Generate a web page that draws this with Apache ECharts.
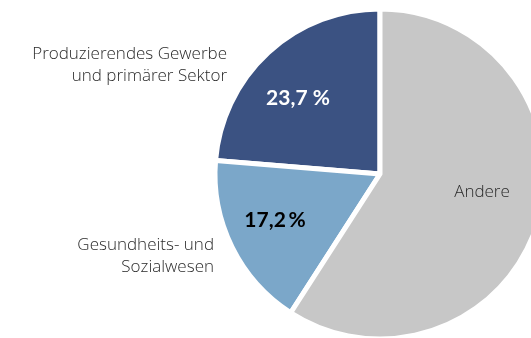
<!DOCTYPE html>
<html>
<head>
<meta charset="utf-8">
<style>html,body{margin:0;padding:0;background:#fff;}#c{width:531px;height:338px;}</style>
<script src="https://cdn.jsdelivr.net/npm/echarts@6/dist/echarts.min.js"></script>
</head>
<body>
<div id="c"></div>
<script>
// Data
const categories = ['Produzierendes Gewerbe\nund primärer Sektor', 'Gesundheits- und\nSozialwesen', 'Andere'];
const values = [23.7, 17.2, 59.1];
const valueLabels = ['23,7 %', '17,2\u2009%', ''];
const colors = ['#3b5282', '#7ba7c9', '#c7c7c7'];

const chart = echarts.init(document.getElementById('c'));
const center = [380, 174];
const radius = 165;

// label positions (layout only)
const innerPos = [[298, 98], [275, 220], [482, 192]];
const outerPos = [[227, 65], [214, 256], null];

const nameFont = { color: '#2a2a2a', fontSize: 17, fontFamily: 'Open Sans', fontWeight: 300 };

const innerData = values.map((v, i) => ({
  value: v,
  name: categories[i],
  itemStyle: { color: colors[i] },
  label: i === 0 ? { color: '#ffffff', fontWeight: 'bold', fontSize: 21, fontFamily: 'Lato' }
       : i === 1 ? { color: '#000000', fontWeight: 'bold', fontSize: 21, fontFamily: 'Lato' }
       : nameFont
}));

const outerData = values.map((v, i) => ({
  value: v,
  name: categories[i],
  label: { show: i < 2 }
}));

chart.setOption({
  animation: false,
  series: [
    {
      type: 'pie',
      center: center,
      radius: radius,
      startAngle: 90,
      clockwise: false,
      silent: true,
      itemStyle: { borderColor: '#ffffff', borderWidth: 5 },
      label: {
        show: true,
        position: 'inside',
        formatter: p => p.dataIndex === 2 ? 'Andere' : valueLabels[p.dataIndex]
      },
      labelLine: { show: false },
      labelLayout: p => ({ x: innerPos[p.dataIndex][0], y: innerPos[p.dataIndex][1], align: 'center', verticalAlign: 'middle' }),
      data: innerData
    },
    {
      type: 'pie',
      center: center,
      radius: radius,
      startAngle: 90,
      clockwise: false,
      silent: true,
      itemStyle: { color: 'rgba(0,0,0,0)', borderWidth: 0 },
      label: Object.assign({
        show: true,
        position: 'outside',
        lineHeight: 22,
        align: 'right',
        formatter: p => p.name
      }, nameFont),
      labelLine: { show: false },
      labelLayout: p => p.dataIndex < 2 ? ({ x: outerPos[p.dataIndex][0], y: outerPos[p.dataIndex][1], align: 'right', verticalAlign: 'middle' }) : {},
      data: outerData
    }
  ]
});
</script>
</body>
</html>
